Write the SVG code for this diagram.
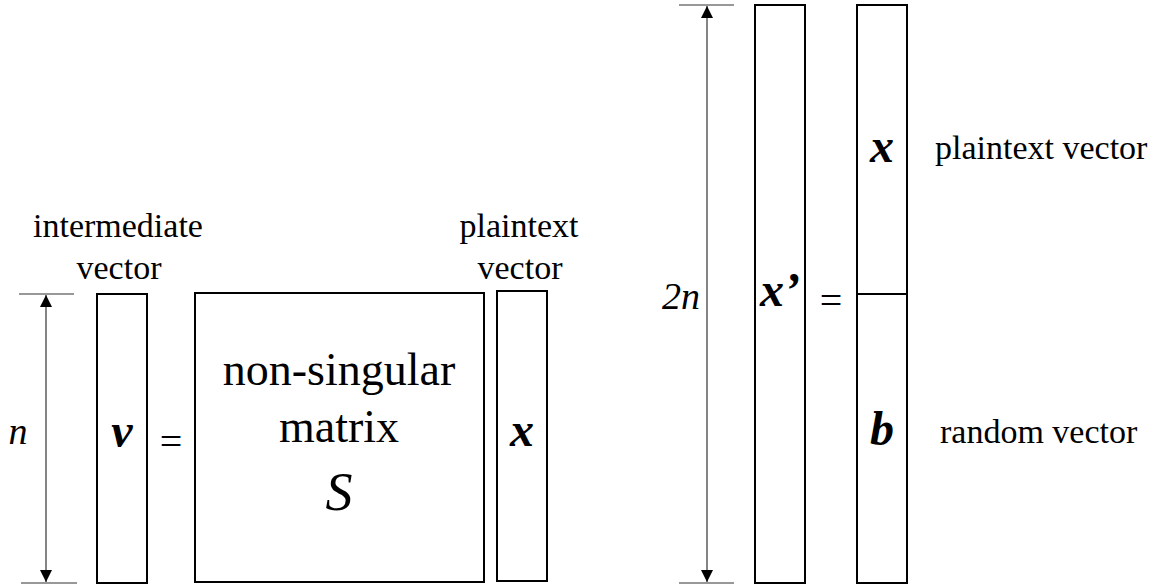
<svg xmlns="http://www.w3.org/2000/svg" width="1159" height="588" viewBox="0 0 1159 588">
<style>
.box{fill:#fff;stroke:#000;stroke-width:2}
.dim{stroke:#333;stroke-width:1.2;fill:none}
.lbl{font-family:"Liberation Serif","Times New Roman",serif;font-size:34px;fill:#000}
.big{font-family:"Liberation Serif","Times New Roman",serif;font-size:46px;fill:#000}
.var{font-family:"Liberation Serif","Times New Roman",serif;font-size:48px;font-weight:bold;font-style:italic;fill:#000}
.it{font-family:"Liberation Serif","Times New Roman",serif;font-size:38px;font-style:italic;fill:#000}
.eq{font-family:"Liberation Serif","Times New Roman",serif;font-size:40px;fill:#000}
</style>
<defs>
<marker id="ah2" viewBox="0 0 10 10" refX="10" refY="5" markerWidth="12" markerHeight="12" markerUnits="userSpaceOnUse" orient="auto-start-reverse">
<path d="M0,0 L10,5 L0,10 z" fill="#000"/>
</marker>
</defs>
<g id="connectors">
<line class="dim" x1="19" y1="294" x2="74" y2="294"/>
<line class="dim" x1="21" y1="583" x2="77" y2="583"/>
<line class="dim" x1="46" y1="295" x2="46" y2="582" marker-start="url(#ah2)" marker-end="url(#ah2)"/>
<line class="dim" x1="679" y1="5" x2="734" y2="5"/>
<line class="dim" x1="679" y1="583" x2="734" y2="583"/>
<line class="dim" x1="707" y1="6" x2="707" y2="582" marker-start="url(#ah2)" marker-end="url(#ah2)"/>
</g>
<g id="dim-n"><text class="it" x="18" y="444" text-anchor="middle">n</text></g>
<g id="label-intermediate">
<text class="lbl" x="118" y="237" text-anchor="middle">intermediate</text>
<text class="lbl" x="119" y="279" text-anchor="middle">vector</text>
</g>
<g id="node-v">
<rect class="box" x="97" y="294" width="50" height="289"/>
<text class="var" x="122" y="447" text-anchor="middle">v</text>
</g>
<g id="eq1"><text class="eq" x="171" y="455" text-anchor="middle">=</text></g>
<g id="node-S">
<rect class="box" x="195" y="293" width="289" height="289"/>
<text class="big" x="339" y="385" text-anchor="middle">non-singular</text>
<text class="big" x="339" y="442" text-anchor="middle">matrix</text>
<text class="it" x="339" y="510" text-anchor="middle" style="font-size:54px">S</text>
</g>
<g id="label-plaintext">
<text class="lbl" x="519" y="237" text-anchor="middle">plaintext</text>
<text class="lbl" x="520" y="279" text-anchor="middle">vector</text>
</g>
<g id="node-x">
<rect class="box" x="497" y="291" width="50" height="290"/>
<text class="var" x="522" y="446" text-anchor="middle">x</text>
</g>
<g id="dim-2n"><text class="it" x="700" y="309" text-anchor="end">2n</text></g>
<g id="node-xprime">
<rect class="box" x="755" y="5" width="50" height="578"/>
<text class="var" x="780" y="306" text-anchor="middle">x’</text>
</g>
<g id="eq2"><text class="eq" x="831" y="314" text-anchor="middle">=</text></g>
<g id="node-xb">
<rect class="box" x="857" y="5" width="50" height="578"/>
<line class="box" x1="857" y1="294" x2="907" y2="294"/>
<text class="var" x="882" y="162" text-anchor="middle">x</text>
<text class="var" x="882" y="445" text-anchor="middle">b</text>
</g>
<g id="label-right">
<text class="lbl" x="935" y="159">plaintext vector</text>
<text class="lbl" x="940" y="443">random vector</text>
</g>
</svg>
